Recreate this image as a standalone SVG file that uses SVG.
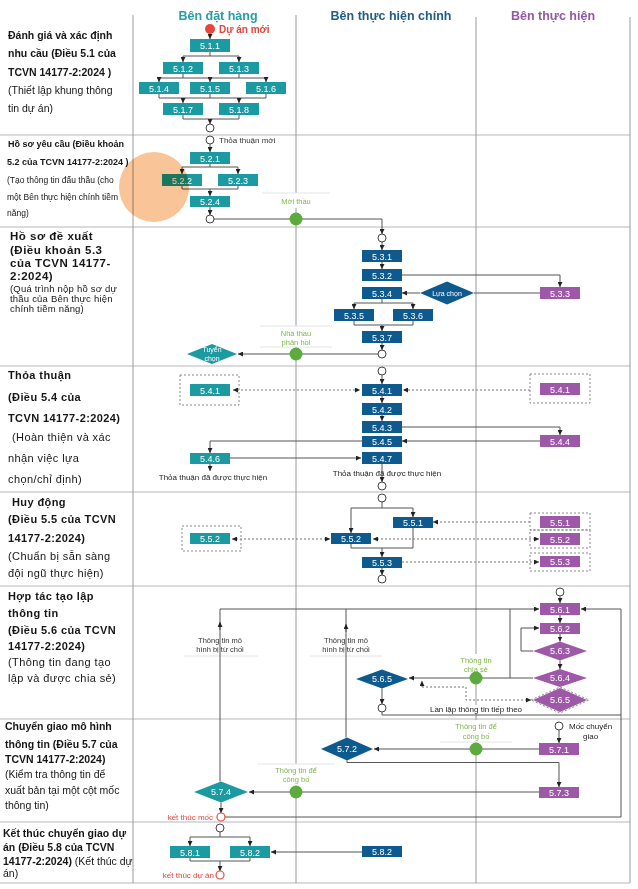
<svg xmlns="http://www.w3.org/2000/svg" width="638" height="889" viewBox="0 0 638 889">
<defs>
<marker id="ah" viewBox="0 0 6 6" refX="6" refY="3" markerWidth="5" markerHeight="5" markerUnits="userSpaceOnUse" orient="auto-start-reverse"><path d="M0,0 L6,3 L0,6 z" fill="#222"/></marker>
</defs>
<style>
text{font-family:"Liberation Sans",Arial,sans-serif}
.lt{fill:#161616}
.b1{font-weight:bold;font-size:10.5px}
.r1{font-size:10.5px}
.b2{font-weight:bold;font-size:9px}
.r2{font-size:8.5px}
.b3{font-weight:bold;font-size:11.5px;letter-spacing:0.5px}
.r3{font-size:9.5px;letter-spacing:0.2px}
.b4{font-weight:bold;font-size:11px;letter-spacing:0.4px}
.r4{font-size:11px;letter-spacing:0.4px}
.hd{font-weight:bold;font-size:12.5px;text-anchor:middle}
.t{fill:#1B9AA1}
.bl{fill:#0E5A8E}
.p{fill:#9E58A8}
.bt{fill:#fff;font-size:9px;text-anchor:middle}
.dt2{fill:#fff;font-size:7px;text-anchor:middle}
.ln{stroke:#555;stroke-width:1;fill:none}
.ar{stroke:#555;stroke-width:1;fill:none;marker-end:url(#ah)}
.dt{stroke:#777;stroke-width:1;stroke-dasharray:2 2;fill:none}
.db{stroke:#888;stroke-width:1;stroke-dasharray:2 2;fill:none}
.ci{fill:#fff;stroke:#444;stroke-width:1}
.cr{fill:#fff;stroke:#E8453C;stroke-width:1.2}
.gd{fill:#5DAA3F}
.gl{font-size:7.5px;fill:#7DB648;text-anchor:middle}
.sl{font-size:7.5px;fill:#333;text-anchor:middle}
.wb{fill:#fff}
.fl{stroke:#e4e4e4;stroke-width:1}
.grid-h{stroke:#cfcfcf;stroke-width:1.5}
.grid-v{stroke:#9a9a9a;stroke-width:1}
.red{fill:#E0463E}
</style>
<rect x="0" y="0" width="638" height="889" fill="#fff"/>

<g id="grid">
<line class="grid-h" x1="0" y1="135" x2="630" y2="135"/>
<line class="grid-h" x1="0" y1="227" x2="630" y2="227"/>
<line class="grid-h" x1="0" y1="366" x2="630" y2="366"/>
<line class="grid-h" x1="0" y1="492" x2="630" y2="492"/>
<line class="grid-h" x1="0" y1="586" x2="630" y2="586"/>
<line class="grid-h" x1="0" y1="719" x2="630" y2="719"/>
<line class="grid-h" x1="0" y1="822" x2="630" y2="822"/>
<line class="grid-h" x1="0" y1="883" x2="630" y2="883"/>
<line class="grid-v" x1="133" y1="15" x2="133" y2="883"/>
<line class="grid-v" x1="296" y1="15" x2="296" y2="883"/>
<line class="grid-v" x1="476" y1="17" x2="476" y2="883"/>
<line class="grid-v" x1="630" y1="17" x2="630" y2="883"/>
</g>

<g id="headers">
<text class="hd" x="218" y="20" fill="#2A9DA3">Bên đặt hàng</text>
<text class="hd" x="391" y="20" fill="#1F5D86">Bên thực hiện chính</text>
<text class="hd" x="553" y="20" fill="#9558A6">Bên thực hiện</text>
</g>

<g id="phase-labels" class="lt">
<text class="b1 lt" x="8" y="39">Đánh giá và xác định</text>
<text class="b1 lt" x="8" y="57">nhu cầu (Điều 5.1 của</text>
<text class="b1 lt" x="8" y="76">TCVN 14177-2:2024 )</text>
<text class="r1 lt" x="8" y="94">(Thiết lập khung thông</text>
<text class="r1 lt" x="8" y="112">tin dự án)</text>

<text class="b2 lt" x="8" y="147">Hồ sơ yêu cầu (Điều khoản</text>
<text class="b2 lt" x="7" y="165">5.2 của TCVN 14177-2:2024 )</text>
<text class="r2 lt" x="7" y="183">(Tạo thông tin đấu thầu (cho</text>
<text class="r2 lt" x="7" y="200">một Bên thực hiện chính tiềm</text>
<text class="r2 lt" x="7" y="216">năng)</text>

<text class="b3 lt" x="10" y="240">Hồ sơ đề xuất</text>
<text class="b3 lt" x="10" y="253.5">(Điều khoản 5.3</text>
<text class="b3 lt" x="10" y="266.5">của TCVN 14177-</text>
<text class="b3 lt" x="10" y="279.5">2:2024)</text>
<text class="r3 lt" x="10" y="291.5">(Quá trình nộp hồ sơ dự</text>
<text class="r3 lt" x="10" y="301.5">thầu của Bên thực hiện</text>
<text class="r3 lt" x="10" y="311.5">chính tiềm năng)</text>

<text class="b4 lt" x="8" y="379">Thỏa thuận</text>
<text class="b4 lt" x="8" y="400.5">(Điều 5.4 của</text>
<text class="b4 lt" x="8" y="421.5">TCVN 14177-2:2024)</text>
<text class="r4 lt" x="12" y="441">(Hoàn thiện và xác</text>
<text class="r4 lt" x="8" y="462">nhận việc lựa</text>
<text class="r4 lt" x="8" y="483">chọn/chỉ định)</text>

<text class="b4 lt" x="12" y="505.5">Huy động</text>
<text class="b4 lt" x="8" y="523">(Điều 5.5 của TCVN</text>
<text class="b4 lt" x="8" y="541.5">14177-2:2024)</text>
<text class="r4 lt" x="8" y="559.5">(Chuẩn bị sẵn sàng</text>
<text class="r4 lt" x="8" y="577">đội ngũ thực hiện)</text>

<text class="b4 lt" x="8" y="600">Hợp tác tạo lập</text>
<text class="b4 lt" x="8" y="617">thông tin</text>
<text class="b4 lt" x="8" y="634">(Điều 5.6 của TCVN</text>
<text class="b4 lt" x="8" y="650">14177-2:2024)</text>
<text class="r4 lt" x="8" y="665.5">(Thông tin đang tạo</text>
<text class="r4 lt" x="8" y="682">lập và được chia sẻ)</text>

<text class="b1 lt" x="5" y="730">Chuyển giao mô hình</text>
<text class="b1 lt" x="5" y="748">thông tin (Điều 5.7 của</text>
<text class="b1 lt" x="5" y="763">TCVN 14177-2:2024)</text>
<text class="r1 lt" x="5" y="778">(Kiểm tra thông tin để</text>
<text class="r1 lt" x="5" y="794">xuất bản tại một cột mốc</text>
<text class="r1 lt" x="5" y="809">thông tin)</text>

<text class="b1 lt" x="3" y="837">Kết thúc chuyển giao dự</text>
<text class="b1 lt" x="3" y="850.5">án (Điều 5.8 của TCVN</text>
<text class="r1 lt" x="3" y="865"><tspan font-weight="bold">14177-2:2024)</tspan> (Kết thúc dự</text>
<text class="r1 lt" x="3" y="877">án)</text>
</g>

<g id="labels">
<rect class="wb" x="262" y="193" width="68" height="15"/>
<line class="fl" x1="262" y1="193" x2="330" y2="193"/>
<text class="gl" x="296" y="204">Mời thầu</text>

<rect class="wb" x="260" y="326" width="72" height="21"/>
<line class="fl" x1="260" y1="326" x2="332" y2="326"/>
<line class="fl" x1="260" y1="347" x2="332" y2="347"/>
<text class="gl" x="296" y="336">Nhà thầu</text>
<text class="gl" x="296" y="345">phản hồi</text>

<rect class="wb" x="184" y="634" width="74" height="22"/>
<line class="fl" x1="184" y1="656" x2="258" y2="656"/>
<text class="sl" x="220" y="643">Thông tin mô</text>
<text class="sl" x="220" y="652">hình bị từ chối</text>

<rect class="wb" x="310" y="634" width="72" height="22"/>
<line class="fl" x1="310" y1="656" x2="382" y2="656"/>
<text class="sl" x="346" y="643">Thông tin mô</text>
<text class="sl" x="346" y="652">hình bị từ chối</text>

<rect class="wb" x="446" y="654" width="60" height="20"/>
<text class="gl" x="476" y="663">Thông tin</text>
<text class="gl" x="476" y="672">chia sẻ</text>

<rect class="wb" x="440" y="720" width="72" height="22"/>
<line class="fl" x1="440" y1="742" x2="512" y2="742"/>
<text class="gl" x="476" y="729">Thông tin để</text>
<text class="gl" x="476" y="739">công bố</text>

<rect class="wb" x="258" y="764" width="76" height="22"/>
<line class="fl" x1="258" y1="764" x2="334" y2="764"/>
<text class="gl" x="296" y="773">Thông tin để</text>
<text class="gl" x="296" y="782">công bố</text>

<rect class="wb" x="421" y="705" width="108" height="9"/>
<text x="476" y="712" font-size="8" fill="#222" text-anchor="middle">Lần lặp thông tin tiếp theo</text>

<text x="219" y="143" font-size="8" fill="#333">Thỏa thuận mới</text>
<text x="213" y="480" font-size="8" fill="#222" text-anchor="middle">Thỏa thuận đã được thực hiện</text>
<text x="569" y="729" font-size="8" fill="#222">Mốc chuyển</text>
<text x="583" y="739" font-size="8" fill="#222">giao</text>
<text x="213" y="820" font-size="8" class="red" text-anchor="end">kết thúc mốc</text>
<text x="214" y="878" font-size="8" class="red" text-anchor="end">kết thúc dự án</text>
</g>

<g id="connectors">
<path class="ar" d="M210,34 V39"/>
<path class="ln" d="M210,52 V56 M183,56 H239"/>
<path class="ar" d="M183,56 V62"/><path class="ar" d="M239,56 V62"/>
<path class="ln" d="M183,74 V78 M239,74 V78 M159,78 H266"/>
<path class="ar" d="M159,78 V82"/><path class="ar" d="M210,78 V82"/><path class="ar" d="M266,78 V82"/>
<path class="ln" d="M159,94 V98 M210,94 V98 M266,94 V98 M159,98 H266"/>
<path class="ar" d="M183,98 V103"/><path class="ar" d="M239,98 V103"/>
<path class="ln" d="M183,115 V119 M239,115 V119 M183,119 H239"/>
<path class="ar" d="M210,119 V124"/>

<path class="ar" d="M210,144 V152"/>
<path class="ln" d="M210,164 V167 M182,167 H238"/>
<path class="ar" d="M182,167 V174"/><path class="ar" d="M238,167 V174"/>
<path class="ln" d="M182,186 V189 M238,186 V189 M182,189 H238"/>
<path class="ar" d="M210,189 V196"/>
<path class="ar" d="M210,207 V215"/>
<path class="ar" d="M214,219 H382 V234"/>

<path class="ar" d="M382,242 V250"/>
<path class="ar" d="M382,262 V269"/>
<path class="ar" d="M401,275 H560 V287"/>
<path class="ln" d="M540,293 H474"/>
<path class="ar" d="M420,293 H402"/>
<path class="ln" d="M382,299 V303 M354,303 H413"/>
<path class="ar" d="M354,303 V309"/><path class="ar" d="M413,303 V309"/>
<path class="ln" d="M354,321 V325 M413,321 V325 M354,325 H413"/>
<path class="ar" d="M382,325 V331"/>
<path class="ar" d="M382,343 V350"/>
<path class="ar" d="M378,354 H238"/>

<path class="ar" d="M382,375 V384"/>
<path class="dt" d="M233,390 H360" marker-start="url(#ah)" marker-end="url(#ah)"/>
<path class="dt" d="M530,390 H403" marker-end="url(#ah)"/>
<path class="ar" d="M382,396 V403"/>
<path class="ar" d="M382,415 V421"/>
<path class="ar" d="M401,427 H560 V435"/>
<path class="ar" d="M540,441 H402"/>
<path class="ar" d="M362,441 H210 V453"/>
<path class="ar" d="M230,458 H361"/>
<path class="ar" d="M210,464 V471"/>
<path class="ar" d="M382,464 V482"/>

<path class="ln" d="M382,502 V508 M351,508 H413"/>
<path class="ar" d="M413,508 V517"/><path class="ar" d="M351,508 V533"/>
<path class="ln" d="M413,528 V548 M351,544 V548 M351,548 H413"/>
<path class="ar" d="M382,548 V557"/>
<path class="ar" d="M382,568 V575"/>
<path class="dt" d="M530,522 H433" marker-end="url(#ah)"/>
<path class="dt" d="M373,539 H539" marker-start="url(#ah)" marker-end="url(#ah)"/>
<path class="dt" d="M232,539 H330" marker-start="url(#ah)" marker-end="url(#ah)"/>
<path class="dt" d="M402,562 H539" marker-end="url(#ah)"/>

<path class="ar" d="M560,596 V603"/>
<path class="ar" d="M220,781.5 V609 H539"/>
<path class="ln" d="M346,737.5 V609"/>
<path class="ln" d="M510,678 V609"/>
<path class="ar" d="M220,630 V622"/>
<path class="ar" d="M346,632 V624"/>
<path class="ar" d="M225,817 H621 V609 H581"/>
<path class="ln" d="M382,712 V715 H621"/>
<path class="ar" d="M560,615 V623"/>
<path class="ar" d="M560,634 V641.5"/>
<path class="ar" d="M533,651 H521 V628 H539"/>
<path class="ar" d="M560,660.5 V669"/>
<path class="ar" d="M533,678 H409"/>
<path class="dt" d="M422,687 V681" marker-end="url(#ah)"/>
<path class="dt" d="M422,687 H466 V700 H531" marker-end="url(#ah)"/>
<path class="ar" d="M382,688.5 V704"/>

<path class="ar" d="M559,730 V743"/>
<path class="ar" d="M539,749 H374"/>
<path class="ar" d="M347,760.5 V762.5 H559 V787"/>
<path class="ar" d="M539,792 H249"/>
<path class="ar" d="M221,802.5 V813"/>

<path class="ln" d="M220,832 V837 M190,837 H250"/>
<path class="ar" d="M190,837 V846"/><path class="ar" d="M250,837 V846"/>
<path class="ar" d="M362,852 H271"/>
<path class="ln" d="M190,858 V861 M250,858 V861 M190,861 H250"/>
<path class="ar" d="M220,861 V871"/>

<circle class="gd" cx="296" cy="219" r="6.5"/>
<circle class="gd" cx="296" cy="354" r="6.5"/>
<circle class="gd" cx="476" cy="678" r="6.5"/>
<circle class="gd" cx="476" cy="749" r="6.5"/>
<circle class="gd" cx="296" cy="792" r="6.5"/>
</g>

<g id="events">
<circle cx="210" cy="29" r="5" fill="#E8453C"/>
<text x="219" y="33" font-size="10" font-weight="bold" fill="#E0463E">Dự án mới</text>
<circle class="ci" cx="210" cy="128" r="4"/>
<circle class="ci" cx="210" cy="140" r="4"/>
<circle class="ci" cx="210" cy="219" r="4"/>
<circle class="ci" cx="382" cy="238" r="4"/>
<circle class="ci" cx="382" cy="354" r="4"/>
<circle class="ci" cx="382" cy="371" r="4"/>
<circle class="ci" cx="382" cy="486" r="4"/>
<circle class="ci" cx="382" cy="498" r="4"/>
<circle class="ci" cx="382" cy="579" r="4"/>
<circle class="ci" cx="560" cy="592" r="4"/>
<circle class="ci" cx="382" cy="708" r="4"/>
<circle class="ci" cx="559" cy="726" r="4"/>
<circle class="cr" cx="221" cy="817" r="4"/>
<circle class="ci" cx="220" cy="828" r="4"/>
<circle class="cr" cx="220" cy="875" r="4"/>
</g>

<g id="n511"><rect class="t" x="190" y="39" width="40" height="13"/><text class="bt" x="210" y="49">5.1.1</text></g>
<g id="n512"><rect class="t" x="163" y="62" width="40" height="12"/><text class="bt" x="183" y="71.5">5.1.2</text></g>
<g id="n513"><rect class="t" x="219" y="62" width="40" height="12"/><text class="bt" x="239" y="71.5">5.1.3</text></g>
<g id="n514"><rect class="t" x="139" y="82" width="40" height="12"/><text class="bt" x="159" y="91.5">5.1.4</text></g>
<g id="n515"><rect class="t" x="190" y="82" width="40" height="12"/><text class="bt" x="210" y="91.5">5.1.5</text></g>
<g id="n516"><rect class="t" x="246" y="82" width="40" height="12"/><text class="bt" x="266" y="91.5">5.1.6</text></g>
<g id="n517"><rect class="t" x="163" y="103" width="40" height="12"/><text class="bt" x="183" y="112.5">5.1.7</text></g>
<g id="n518"><rect class="t" x="219" y="103" width="40" height="12"/><text class="bt" x="239" y="112.5">5.1.8</text></g>

<g id="n521"><rect class="t" x="190" y="152" width="40" height="12"/><text class="bt" x="210" y="161.5">5.2.1</text></g>
<g id="n522"><rect class="t" x="162" y="174" width="40" height="12"/><text class="bt" x="182" y="183.5">5.2.2</text></g>
<g id="n523"><rect class="t" x="218" y="174" width="40" height="12"/><text class="bt" x="238" y="183.5">5.2.3</text></g>
<g id="n524"><rect class="t" x="190" y="196" width="40" height="11"/><text class="bt" x="210" y="205">5.2.4</text></g>

<g id="n531"><rect class="bl" x="362" y="250" width="40" height="12"/><text class="bt" x="382" y="259.5">5.3.1</text></g>
<g id="n532"><rect class="bl" x="362" y="269" width="40" height="12"/><text class="bt" x="382" y="278.5">5.3.2</text></g>
<g id="n533"><rect class="p" x="540" y="287" width="40" height="12"/><text class="bt" x="560" y="296.5">5.3.3</text></g>
<g id="n534"><rect class="bl" x="362" y="287" width="40" height="12"/><text class="bt" x="382" y="296.5">5.3.4</text></g>
<g id="luachon"><polygon class="bl" points="420,293 447,281.5 474,293 447,304.5"/><text class="dt2" x="447" y="295.5" font-size="7.5">Lựa chọn</text></g>
<g id="n535"><rect class="bl" x="334" y="309" width="40" height="12"/><text class="bt" x="354" y="318.5">5.3.5</text></g>
<g id="n536"><rect class="bl" x="393" y="309" width="40" height="12"/><text class="bt" x="413" y="318.5">5.3.6</text></g>
<g id="n537"><rect class="bl" x="362" y="331" width="40" height="12"/><text class="bt" x="382" y="340.5">5.3.7</text></g>
<g id="tuyenchon"><polygon class="t" points="187,354 212,344 237,354 212,364"/><text class="dt2" x="212" y="352">Tuyển</text><text class="dt2" x="212" y="360.5">chọn</text></g>

<g id="n541a"><rect class="db" x="180" y="375" width="59" height="30"/><rect class="t" x="190" y="384" width="40" height="12"/><text class="bt" x="210" y="393.5">5.4.1</text></g>
<g id="n541"><rect class="bl" x="362" y="384" width="40" height="12"/><text class="bt" x="382" y="393.5">5.4.1</text></g>
<g id="n541c"><rect class="db" x="530" y="374" width="60" height="29"/><rect class="p" x="540" y="383" width="40" height="12"/><text class="bt" x="560" y="392.5">5.4.1</text></g>
<g id="n542"><rect class="bl" x="362" y="403" width="40" height="12"/><text class="bt" x="382" y="412.5">5.4.2</text></g>
<g id="n543"><rect class="bl" x="362" y="421" width="40" height="12"/><text class="bt" x="382" y="430.5">5.4.3</text></g>
<g id="n544"><rect class="p" x="540" y="435" width="40" height="12"/><text class="bt" x="560" y="444.5">5.4.4</text></g>
<g id="n545"><rect class="bl" x="362" y="436" width="40" height="11"/><text class="bt" x="382" y="445">5.4.5</text></g>
<g id="n546"><rect class="t" x="190" y="453" width="40" height="11"/><text class="bt" x="210" y="462">5.4.6</text></g>
<g id="n547"><rect class="bl" x="362" y="452" width="40" height="12"/><text class="bt" x="382" y="461.5">5.4.7</text></g>
<text x="387" y="476" font-size="8" fill="#222" text-anchor="middle">Thỏa thuận đã được thực hiện</text>

<g id="n551"><rect class="bl" x="393" y="517" width="40" height="11"/><text class="bt" x="413" y="526">5.5.1</text></g>
<g id="n552a"><rect class="db" x="182" y="526" width="59" height="25"/><rect class="t" x="190" y="533" width="40" height="11"/><text class="bt" x="210" y="542">5.5.2</text></g>
<g id="n552"><rect class="bl" x="331" y="533" width="40" height="11"/><text class="bt" x="351" y="542">5.5.2</text></g>
<g id="n553"><rect class="bl" x="362" y="557" width="40" height="11"/><text class="bt" x="382" y="566">5.5.3</text></g>
<g id="n551c"><rect class="db" x="530" y="513" width="60" height="17"/><rect class="p" x="540" y="516" width="40" height="12"/><text class="bt" x="560" y="525.5">5.5.1</text></g>
<g id="n552c"><rect class="db" x="530" y="530" width="60" height="18"/><rect class="p" x="540" y="533" width="40" height="12"/><text class="bt" x="560" y="542.5">5.5.2</text></g>
<g id="n553c"><rect class="db" x="530" y="553" width="60" height="18"/><rect class="p" x="540" y="556" width="40" height="11"/><text class="bt" x="560" y="565">5.5.3</text></g>

<g id="n561"><rect class="p" x="540" y="603" width="40" height="12"/><text class="bt" x="560" y="612.5">5.6.1</text></g>
<g id="n562"><rect class="p" x="540" y="623" width="40" height="11"/><text class="bt" x="560" y="632">5.6.2</text></g>
<g id="n563"><polygon class="p" points="533,651 560,641.5 587,651 560,660.5"/><text class="bt" x="560" y="654">5.6.3</text></g>
<g id="n564"><polygon class="p" points="533,678 560,669 587,678 560,687"/><text class="bt" x="560" y="681">5.6.4</text></g>
<g id="n565c"><polygon class="p" points="533,700 560,688 587,700 560,712"/><polygon class="db" points="531,700 560,687 589,700 560,713"/><text class="bt" x="560" y="703">5.6.5</text></g>
<g id="n565"><polygon class="bl" points="356,679 382,669.5 408,679 382,688.5"/><text class="bt" x="382" y="682">5.6.5</text></g>

<g id="n571"><rect class="p" x="539" y="743" width="40" height="12"/><text class="bt" x="559" y="752.5">5.7.1</text></g>
<g id="n572"><polygon class="bl" points="321,749 347,737.5 373,749 347,760.5"/><text class="bt" x="347" y="752">5.7.2</text></g>
<g id="n573"><rect class="p" x="539" y="787" width="40" height="11"/><text class="bt" x="559" y="796">5.7.3</text></g>
<g id="n574"><polygon class="t" points="194,792 221,781.5 248,792 221,802.5"/><text class="bt" x="221" y="795">5.7.4</text></g>

<g id="n581"><rect class="t" x="170" y="846" width="40" height="12"/><text class="bt" x="190" y="855.5">5.8.1</text></g>
<g id="n582"><rect class="t" x="230" y="846" width="40" height="12"/><text class="bt" x="250" y="855.5">5.8.2</text></g>
<g id="n582b"><rect class="bl" x="362" y="846" width="40" height="11"/><text class="bt" x="382" y="855">5.8.2</text></g>

<g id="highlight">
<circle cx="154" cy="187" r="35" fill="#F9C497" style="mix-blend-mode:multiply"/>
</g>
</svg>
